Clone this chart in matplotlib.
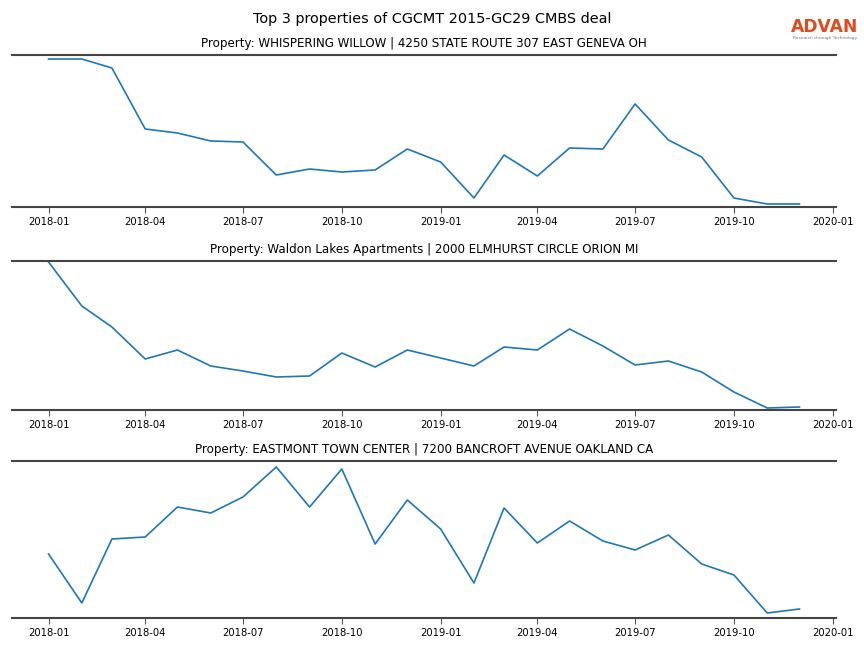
import matplotlib
matplotlib.use("Agg")
import matplotlib.pyplot as plt
import matplotlib.dates as mdates
import pandas as pd
import numpy as np

months = pd.date_range("2018-01-01", "2019-12-01", freq="MS")

titles = [
    "Property: WHISPERING WILLOW | 4250 STATE ROUTE 307 EAST GENEVA OH",
    "Property: Waldon Lakes Apartments | 2000 ELMHURST CIRCLE ORION MI",
    "Property: EASTMONT TOWN CENTER | 7200 BANCROFT AVENUE OAKLAND CA",
]

whispering_willow = [148, 148, 139, 78, 74, 66, 65, 32, 38, 35, 37, 58,
                     45, 9, 52, 31, 59, 58, 103, 67, 50, 9, 3, 3]
waldon_lakes = [148, 104, 83, 51, 60, 44, 39, 33, 34, 57, 43, 60,
                52, 44, 63, 60, 81, 64, 45, 49, 38, 18, 2, 3]
eastmont = [64, 15, 79, 81, 111, 105, 121, 151, 111, 149, 74, 118,
            89, 35, 110, 75, 97, 77, 68, 83, 54, 43, 5, 9]

series = [whispering_willow, waldon_lakes, eastmont]
ylims = [(0, 152), (0, 149), (0, 157)]

fig = plt.figure(figsize=(8.64, 6.48), dpi=100)
boxes = [(55, 207), (261, 410), (461, 618)]
left, right = 12 / 864, 836 / 864
xmin = pd.Timestamp("2017-11-28")
xmax = pd.Timestamp("2020-01-04")
ticks = pd.date_range("2018-01-01", "2020-01-01", freq="3MS")

for (top, bot), vals, title, yl in zip(boxes, series, titles, ylims):
    ax = fig.add_axes([left, 1 - bot / 648, right - left, (bot - top) / 648])
    ax.plot(months, vals, color="#1f77b4", linewidth=1.2)
    ax.set_xlim(xmin, xmax)
    ax.set_ylim(*yl)
    ax.set_xticks(ticks)
    ax.xaxis.set_major_formatter(mdates.DateFormatter("%Y-%m"))
    ax.tick_params(axis="x", labelsize=7.2, length=4, color="#555555", pad=3)
    ax.set_yticks([])
    for s in ["left", "right"]:
        ax.spines[s].set_visible(False)
    for s in ["top", "bottom"]:
        ax.spines[s].set_color("#444444")
        ax.spines[s].set_linewidth(1.5)
    ax.set_title(title, fontsize=8.6, pad=6)

fig.text(0.5, 1 - 19 / 648, "Top 3 properties of CGCMT 2015-GC29 CMBS deal",
         ha="center", va="center", fontsize=10.4)
fig.text(825 / 864, 1 - 27 / 648, "ADVAN", ha="center", va="center",
         fontsize=12.3, color="#e04a1f", fontweight="bold")
fig.text(825 / 864, 1 - 38 / 648, "Research through Technology", ha="center",
         va="center", fontsize=3.2, color="#777777")

fig.savefig("out.png", dpi=100)
